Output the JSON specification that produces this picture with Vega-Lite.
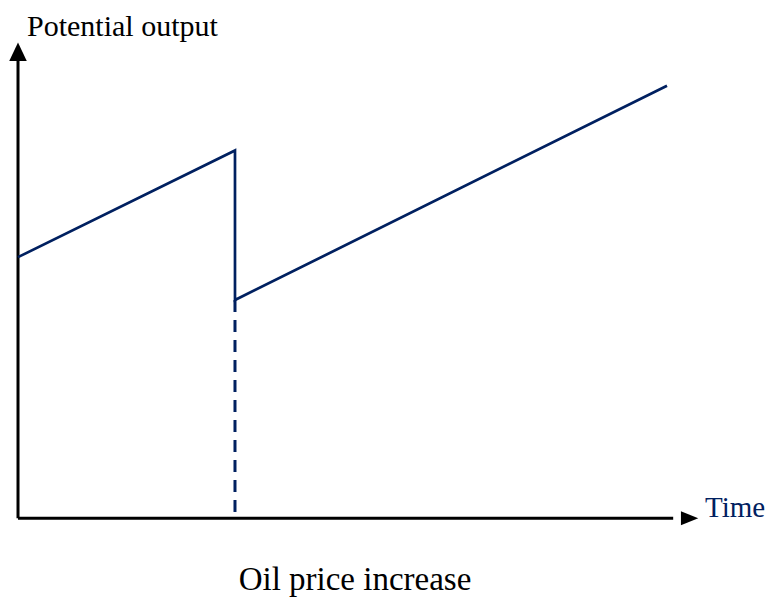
{
  "$schema": "https://vega.github.io/schema/vega-lite/v6.json",
  "width": 768,
  "height": 598,
  "autosize": {"type": "fit", "contains": "padding"},
  "padding": 0,
  "background": "white",
  "config": {"view": {"stroke": null}},
  "datasets": {
    "axes": [
      {"t": 0, "o": 0, "t2": 0, "o2": 9.7},
      {"t": 0, "o": 0, "t2": 9.75, "o2": 0}
    ],
    "potential": [
      {"t": 0, "o": 5.516},
      {"t": 3.229, "o": 7.768},
      {"t": 3.229, "o": 4.611},
      {"t": 9.658, "o": 9.137}
    ],
    "shock": [
      {"t": 3.229, "o": 4.611, "o2": 0.04}
    ],
    "arrowUp": [{"t": 0, "o": 9.853}],
    "arrowRight": [{"t": 9.994, "o": 0}],
    "ylabel": [{"t": 0.134, "o": 10.19, "label": "Potential output"}],
    "xlabel": [{"t": 10.223, "o": 0.02, "label": "Time"}],
    "event": [{"t": 5.015, "o": -1.516, "label": "Oil price increase"}]
  },
  "encoding": {
    "x": {"field": "t", "type": "quantitative", "scale": {"domain": [-0.268, 11.161], "nice": false, "zero": false}, "axis": null},
    "y": {"field": "o", "type": "quantitative", "scale": {"domain": [-1.642, 10.947], "nice": false, "zero": false}, "axis": null}
  },
  "layer": [
    {
      "data": {"name": "axes"},
      "mark": {"type": "rule", "color": "black", "strokeWidth": 3},
      "encoding": {
        "x2": {"field": "t2"},
        "y2": {"field": "o2"}
      }
    },
    {
      "data": {"name": "arrowUp"},
      "mark": {"type": "point", "shape": "M0,-1L-0.95,1L0.95,1Z", "size": 340, "filled": true, "color": "black", "opacity": 1, "strokeWidth": 0}
    },
    {
      "data": {"name": "arrowRight"},
      "mark": {"type": "point", "shape": "M1,0L-1,-0.82L-1,0.82Z", "size": 300, "filled": true, "color": "black", "opacity": 1, "strokeWidth": 0}
    },
    {
      "data": {"name": "shock"},
      "mark": {"type": "rule", "color": "#002060", "strokeWidth": 3, "strokeDash": [12, 8]},
      "encoding": {
        "y2": {"field": "o2"}
      }
    },
    {
      "data": {"name": "potential"},
      "mark": {"type": "line", "color": "#002060", "strokeWidth": 2.7, "strokeJoin": "miter", "interpolate": "linear"},
      "encoding": {"order": {"value": 0}}
    },
    {
      "data": {"name": "ylabel"},
      "mark": {"type": "text", "font": "Liberation Serif", "fontSize": 30, "align": "left", "baseline": "alphabetic", "color": "black"},
      "encoding": {"text": {"field": "label"}}
    },
    {
      "data": {"name": "xlabel"},
      "mark": {"type": "text", "font": "Liberation Serif", "fontSize": 29, "align": "left", "baseline": "alphabetic", "color": "#002060"},
      "encoding": {"text": {"field": "label"}}
    },
    {
      "data": {"name": "event"},
      "mark": {"type": "text", "font": "Liberation Serif", "fontSize": 33, "align": "center", "baseline": "alphabetic", "color": "black"},
      "encoding": {"text": {"field": "label"}}
    }
  ]
}
